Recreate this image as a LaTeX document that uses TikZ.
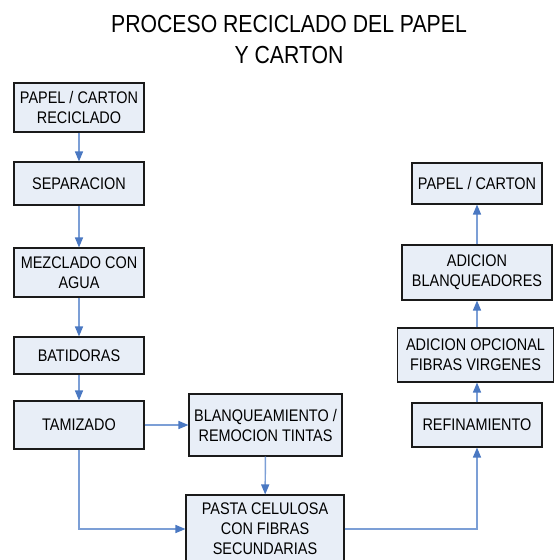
\documentclass[tikz,border=0pt]{standalone}
\usepackage{fontspec}
\setmainfont[FakeStretch=0.86]{Liberation Sans}
\usetikzlibrary{arrows.meta,positioning}
\definecolor{boxfill}{HTML}{E8EEF7}
\definecolor{boxline}{HTML}{1A1A1A}
\definecolor{flowline}{HTML}{7C9FD6}
\definecolor{flowhead}{HTML}{4A78C2}
\tikzset{stepbox/.style={rectangle,draw=boxline,fill=boxfill,line width=.8pt,inner sep=0pt,align=center,font=\fontsize{12.6}{15}\selectfont},sz/.style 2 args={minimum width=#1*0.75pt,minimum height=#2*0.75pt},titletext/.style={anchor=base,inner sep=0pt,font=\fontsize{18.5}{22.5}\selectfont},flow/.style={draw=flowline,line width=1.1pt,-{Triangle[length=7.5pt,width=6pt,color=flowhead]}}}

\begin{document}
\begin{tikzpicture}[x=0.75pt,y=-0.75pt]
\useasboundingbox (0,0) rectangle (554,560);
\node[titletext] (title) at (289,33) {PROCESO RECICLADO DEL PAPEL};
\node[titletext] (titlesub) at (289,63.5) {Y CARTON};
% left column
\node[stepbox,sz={130}{49}] (rec) at (79,107.5) {PAPEL / CARTON\\RECICLADO};
\node[stepbox,sz={130}{43}] (sep) at (79,183.5) {SEPARACION};
\node[stepbox,sz={130}{49}] (mez) at (79,272.5) {MEZCLADO CON\\AGUA};
\node[stepbox,sz={130}{37}] (bat) at (79,355.5) {BATIDORAS};
\node[stepbox,sz={130}{48}] (tam) at (79,425) {TAMIZADO};
% middle
\node[stepbox,sz={153}{62}] (bla) at (265.5,425) {BLANQUEAMIENTO /\\REMOCION TINTAS};
\node[stepbox,sz={158}{68}] (pas) at (265,529) {PASTA CELULOSA\\CON FIBRAS\\SECUNDARIAS};
% right column
\node[stepbox,sz={130}{44}] (ref) at (477,425) {REFINAMIENTO};
\node[stepbox,sz={156}{54}] (opc) at (475.5,355) {ADICION OPCIONAL\\FIBRAS VIRGENES};
\node[stepbox,sz={150}{55}] (adb) at (477,272.5) {ADICION\\BLANQUEADORES};
\node[stepbox,sz={130}{41}] (fin) at (477,183.5) {PAPEL / CARTON};
\draw[flow] (rec) -- (sep);
\draw[flow] (sep) -- (mez);
\draw[flow] (mez) -- (bat);
\draw[flow] (bat) -- (tam);
\draw[flow] (tam) -- (bla);
\draw[flow] (tam.south) |- (pas.west);
\draw[flow] (bla) -- (pas);
\draw[flow] (pas.east) -| (ref.south);
\draw[flow] (ref.north) -- (ref.north |- opc.south);
\draw[flow] (ref.north |- opc.north) -- (ref.north |- adb.south);
\draw[flow] (adb.north) -- (fin.south);
\end{tikzpicture}
\end{document}
